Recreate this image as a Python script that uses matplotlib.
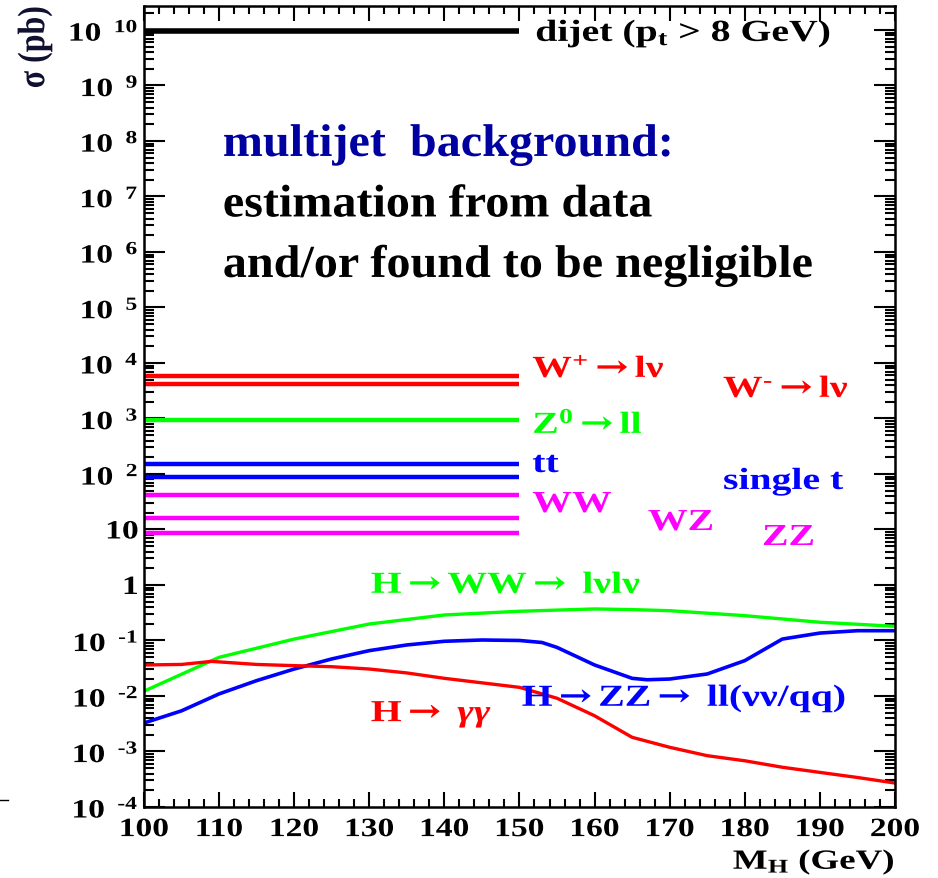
import numpy as np
import matplotlib
matplotlib.use('Agg')
import matplotlib.pyplot as plt
import matplotlib.ticker as mtp_ticker
from matplotlib.lines import Line2D
from matplotlib.patheffects import AbstractPathEffect
from matplotlib.transforms import Affine2D

plt.rcParams['font.family'] = ['Liberation Serif', 'DejaVu Serif']
plt.rcParams['font.weight'] = 'bold'
plt.rcParams['mathtext.fontset'] = 'custom'
plt.rcParams['mathtext.rm'] = 'Liberation Serif:bold'
plt.rcParams['mathtext.bf'] = 'Liberation Serif:bold'
plt.rcParams['mathtext.it'] = 'Liberation Serif:italic'
plt.rcParams['mathtext.sf'] = 'DejaVu Serif'

#### DATA ####
# flat background cross sections (pb), drawn over 100-150 GeV
bkg_names = ['dijet', 'W+', 'W-', 'Z0', 'tt', 'single t', 'WW', 'WZ', 'ZZ']
bkg_xsec = [9.5e9, 5.8e3, 4.1e3, 9.4e2, 151, 88, 42, 16, 8.7]
bkg_colors = ['black', '#ff0000', '#ff0000', '#00ff00', '#0000ff', '#0000ff',
              '#ff00ff', '#ff00ff', '#ff00ff']
bkg_xrange = [100, 150]

# Higgs signal curves vs M_H
mh_ww = [100, 110, 120, 130, 140, 150, 160, 165, 170, 180, 190, 200]
xs_ww = [0.0122, 0.0497, 0.106, 0.198, 0.288, 0.336, 0.37, 0.36, 0.344, 0.28, 0.213, 0.18]

mh_zz = [100, 105, 110, 115, 120, 125, 130, 135, 140, 145, 150, 153, 155, 160, 165,
         167, 170, 175, 180, 185, 190, 195, 200]
xs_zz = [0.00326, 0.0054, 0.0109, 0.0189, 0.0306, 0.0465, 0.0656, 0.083, 0.0967, 0.102,
         0.1, 0.092, 0.075, 0.0362, 0.0208, 0.0196, 0.0202, 0.0249, 0.0433, 0.106,
         0.136, 0.150, 0.150]

mh_gg = [100, 105, 109, 115, 120, 125, 130, 135, 140, 150, 155, 160, 165, 170, 175,
         180, 185, 190, 195, 200]
xs_gg = [0.0362, 0.037, 0.042, 0.037, 0.0352, 0.0337, 0.0306, 0.026, 0.0208, 0.0143,
         0.0091, 0.0044, 0.0018, 0.00119, 0.00084, 0.00068, 0.00052, 0.00042, 0.00034,
         0.00027]


# the old slide is squeezed horizontally -> widen the glyphs a bit
class Stretch(AbstractPathEffect):
    def __init__(self, sx=1.3, sy=1.0, anchor='left'):
        super().__init__()
        self.sx = sx
        self.sy = sy
        self.anchor = anchor

    def draw_path(self, renderer, gc, tpath, affine, rgbFace=None):
        ext = tpath.get_extents()
        if self.anchor == 'right':
            x0 = ext.x1
        elif self.anchor == 'center':
            x0 = 0.5 * (ext.x0 + ext.x1)
        else:
            x0 = 0.0
        y0 = 0.5 * (ext.y0 + ext.y1)
        t = Affine2D().translate(-x0, -y0).scale(self.sx, self.sy).translate(x0, y0)
        renderer.draw_path(gc, tpath, t + affine, rgbFace)


ARR = r'$\mathsf{\rightarrow}$'
HY = u'\u2010'

#### FIGURE ####
fig = plt.figure(figsize=(9.38, 8.79), dpi=100)
ax = fig.add_axes([0.1535, 0.0808, 0.8006, 0.9112])

for xs, col in zip(bkg_xsec, bkg_colors):
    lw = 4.0 if col == 'black' else 3.2
    ax.plot(bkg_xrange, [xs, xs], color=col, lw=lw, solid_capstyle='butt')

ax.plot(mh_ww, xs_ww, color='#00ff00', lw=2.4)
ax.plot(mh_zz, xs_zz, color='#0000ff', lw=2.6)
ax.plot(mh_gg, xs_gg, color='#ff0000', lw=2.4)

ax.set_yscale('log')
ax.set_xlim(100, 200)
ax.set_ylim(1e-4, 2.7e10)

# axis ticks ROOT style
ax.xaxis.set_major_locator(mtp_ticker.MultipleLocator(10))
ax.xaxis.set_minor_locator(mtp_ticker.MultipleLocator(2))
ax.yaxis.set_major_locator(mtp_ticker.LogLocator(base=10, numticks=30))
ax.yaxis.set_minor_locator(mtp_ticker.LogLocator(base=10, subs=np.arange(2, 10), numticks=30))
ax.yaxis.set_minor_formatter(mtp_ticker.NullFormatter())

def ylab(v, p):
    n = int(round(np.log10(v)))
    if n == 0:
        return '1'
    if n == 1:
        return '10'
    if n < 0:
        return r'$\mathbf{10^{\ \ %s%d}}$' % (HY, -n)
    return r'$\mathbf{10^{\ \ %d}}$' % n

ax.yaxis.set_major_formatter(mtp_ticker.FuncFormatter(ylab))
ax.tick_params(axis='both', which='both', direction='in', top=True, right=True,
               width=1.5, labelsize=19)
ax.tick_params(axis='x', which='major', length=11, pad=8)
ax.tick_params(axis='x', which='minor', length=6)
ax.tick_params(axis='y', which='major', length=15, pad=4)
ax.tick_params(axis='y', which='minor', length=7)
for s in ax.spines.values():
    s.set_linewidth(1.8)

ax.text(-0.145, 1.0, u'\u03c3 (pb)', transform=ax.transAxes, rotation=90,
        ha='center', va='top', fontsize=23, color='#101030',
        path_effects=[Stretch(1.0, 1.2, 'center')])
ax.text(1.0, -0.05, r'M$_{\mathbf{H}}$ (GeV)', transform=ax.transAxes,
        ha='right', va='top', fontsize=20, path_effects=[Stretch(1.33, 1.0, 'right')])

# labels
lab_fx = [Stretch(1.3)]
ax.text(152.1, 10**9.80, r'dijet (p$_{\mathbf{t}}$ > 8 GeV)', fontsize=22, va='baseline',
        path_effects=lab_fx)
ax.text(151.7, 10**3.748, r'W$^{\mathbf{+}}$' + ARR + u'l\u03bd', fontsize=22,
        color='#ff0000', va='baseline', path_effects=lab_fx)
ax.text(177.1, 10**3.387, r'W$^{\mathbf{%s}}$' % HY + ARR + u'l\u03bd', fontsize=22,
        color='#ff0000', va='baseline', path_effects=lab_fx)
ax.text(151.7, 10**2.739, r'Z$^{\mathbf{0}}$' + ARR + 'll', fontsize=22,
        color='#00ff00', va='baseline', path_effects=lab_fx)
ax.text(151.7, 10**2.036, 'tt', fontsize=22, color='#0000ff', va='baseline', path_effects=lab_fx)
ax.text(177.1, 10**1.73, 'single t', fontsize=22, color='#0000ff', va='baseline', path_effects=lab_fx)
ax.text(151.7, 10**1.315, 'WW', fontsize=22, color='#ff00ff', va='baseline', path_effects=lab_fx)
ax.text(167.1, 10**0.99, 'WZ', fontsize=22, color='#ff00ff', va='baseline', path_effects=lab_fx)
ax.text(182.3, 10**0.72, 'ZZ', fontsize=22, color='#ff00ff', va='baseline', path_effects=lab_fx)

ax.text(130.2, 10**-0.144, 'H' + ARR + 'WW' + ARR + u' l\u03bdl\u03bd', fontsize=22,
        color='#00ff00', va='baseline', path_effects=lab_fx)
ax.text(130.2, 10**-2.456, 'H' + ARR + r' $\gamma\gamma$', fontsize=22,
        color='#ff0000', va='baseline', path_effects=lab_fx)
ax.text(150.3, 10**-2.18, 'H' + ARR + 'ZZ' + ARR + u' ll(\u03bd\u03bd/qq)', fontsize=22,
        color='#0000ff', va='baseline', path_effects=lab_fx)

big_fx = [Stretch(1.05)]
ax.text(110.5, 10**7.73, 'multijet  background:', fontsize=33, color='#0000a0',
        va='baseline', path_effects=big_fx)
ax.text(110.5, 10**6.64, 'estimation from data', fontsize=33, color='black',
        va='baseline', path_effects=big_fx)
ax.text(110.5, 10**5.55, 'and/or found to be negligible', fontsize=33, color='black',
        va='baseline', path_effects=big_fx)

fig.add_artist(Line2D([0, 0.008], [0.089, 0.089], color='black', lw=1))

fig.canvas.draw()
for t in ax.get_xticklabels():
    t.set_path_effects([Stretch(1.27, 1.0, 'center')])
for t in ax.get_yticklabels():
    t.set_path_effects([Stretch(1.27, 1.0, 'right')])

plt.savefig('out.png', dpi=100)
